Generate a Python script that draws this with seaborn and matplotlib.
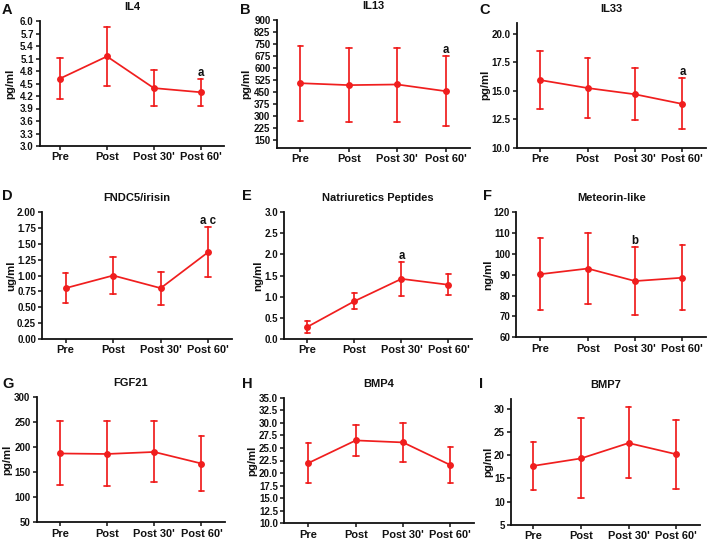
import numpy as np
import pandas as pd
import matplotlib
matplotlib.use("Agg")
import matplotlib.pyplot as plt
import seaborn as sns

sns.set_style("ticks")
plt.rcParams['font.family'] = ['Liberation Sans', 'DejaVu Sans']
plt.rcParams['font.weight'] = 'bold'

categories = ["Pre", "Post", "Post 30'", "Post 60'"]

# mean, lower bound, upper bound per panel
il4_mean = [4.62, 5.15, 4.39, 4.29]
il4_low = [4.12, 4.45, 3.96, 3.96]
il4_high = [5.12, 5.85, 4.83, 4.62]

il13_mean = [505, 493, 497, 455]
il13_low = [270, 262, 265, 237]
il13_high = [740, 725, 728, 672]

il33_mean = [15.95, 15.25, 14.7, 13.85]
il33_low = [13.4, 12.65, 12.4, 11.65]
il33_high = [18.55, 17.9, 17.0, 16.1]

fndc5_mean = [0.80, 1.00, 0.80, 1.37]
fndc5_low = [0.57, 0.71, 0.53, 0.98]
fndc5_high = [1.04, 1.29, 1.06, 1.77]

np_mean = [0.28, 0.89, 1.42, 1.28]
np_low = [0.13, 0.70, 1.02, 1.03]
np_high = [0.43, 1.09, 1.82, 1.53]

metrnl_mean = [90.3, 93.0, 87.0, 88.6]
metrnl_low = [73.0, 76.0, 70.5, 73.0]
metrnl_high = [107.5, 110.3, 103.3, 104.3]

fgf21_mean = [187, 186, 190, 167]
fgf21_low = [124, 122, 131, 113]
fgf21_high = [251, 251, 251, 222]

bmp4_mean = [22.0, 26.5, 26.1, 21.6]
bmp4_low = [18.0, 23.4, 22.3, 18.0]
bmp4_high = [26.0, 29.6, 29.9, 25.2]

bmp7_mean = [17.7, 19.3, 22.6, 20.2]
bmp7_low = [12.6, 10.7, 15.0, 12.8]
bmp7_high = [22.8, 27.9, 30.3, 27.5]

titles = ["IL4", "IL13", "IL33", "FNDC5/irisin", "Natriuretics Peptides",
          "Meteorin-like", "FGF21", "BMP4", "BMP7"]
letters = ["A", "B", "C", "D", "E", "F", "G", "H", "I"]
units = ["pg/ml", "pg/ml", "pg/ml", "ug/ml", "ng/ml", "ng/ml", "pg/ml", "pg/ml", "pg/ml"]
annotations = [{3: "a"}, {3: "a"}, {3: "a"}, {3: "a c"}, {2: "a"}, {2: "b"}, {}, {}, {}]

panels = [
    (il4_mean, il4_low, il4_high),
    (il13_mean, il13_low, il13_high),
    (il33_mean, il33_low, il33_high),
    (fndc5_mean, fndc5_low, fndc5_high),
    (np_mean, np_low, np_high),
    (metrnl_mean, metrnl_low, metrnl_high),
    (fgf21_mean, fgf21_low, fgf21_high),
    (bmp4_mean, bmp4_low, bmp4_high),
    (bmp7_mean, bmp7_low, bmp7_high),
]

ylims = [(3.0, 6.0), (100, 900), (10, 21), (0, 2.0), (0, 3.0), (60, 120),
         (50, 300), (10, 35), (5, 32)]
yticks = [np.arange(3.0, 6.01, 0.3), np.arange(150, 901, 75), np.arange(10, 20.1, 2.5),
          np.arange(0, 2.01, 0.25), np.arange(0, 3.01, 0.5), np.arange(60, 121, 10),
          np.arange(50, 301, 50), np.arange(10, 35.1, 2.5), np.arange(5, 30.1, 5)]
yfmt = ["{:.1f}", "{:.0f}", "{:.1f}", "{:.2f}", "{:.1f}", "{:.0f}", "{:.0f}", "{:.1f}", "{:.0f}"]

# axes boxes in pixels: left, right, top, bottom
W, H = 708, 541
boxes = [
    (40, 224, 21, 146), (276.7, 470, 20, 148), (517, 706, 22.7, 147.7),
    (42.3, 232, 212.3, 338.7), (284.3, 472, 212.3, 338.7), (516.3, 706, 212.3, 337.3),
    (36.7, 225, 396.7, 522.3), (284.3, 474, 397.7, 523.3), (511, 700, 399.3, 525),
]
xlefts = [-0.43, -0.49, -0.49, -0.49, -0.49, -0.51, -0.49, -0.51, -0.47]
ylabel_x = [10, 246, 485, 11, 258, 488, 7, 252, 488]
letter_pos = [(2, 10), (240, 10), (479, 10), (2, 196), (242, 196), (483, 196),
              (2, 384), (242, 384), (479, 384)]

red = '#f01e1e'
ink = '#111111'
fig = plt.figure(figsize=(W / 100, H / 100), dpi=100)

for i, (m, lo, hi) in enumerate(panels):
    l, r, t, b = boxes[i]
    ax = fig.add_axes([l / W, 1 - b / H, (r - l) / W, (b - t) / H])
    df = pd.DataFrame({
        "time": categories * 3,
        "value": list(lo) + list(m) + list(hi),
    })
    sns.pointplot(data=df, x="time", y="value", order=categories,
                  estimator="median", errorbar=("pi", 100), color=red,
                  capsize=0.12, markersize=4.0, linewidth=1.25,
                  err_kws={"linewidth": 1.25}, ax=ax)
    ax.set_xlim(xlefts[i], 3.5)
    ax.set_ylim(*ylims[i])
    ax.set_yticks(yticks[i])
    ax.set_yticklabels([yfmt[i].format(v) for v in yticks[i]], fontsize=7.0,
                       fontweight='bold', color=ink)
    ax.set_xticks(range(4))
    ax.set_xticklabels(categories, fontsize=7.9, fontweight='bold', color=ink)
    ax.set_xlabel("")
    ax.set_ylabel(units[i], fontsize=8.2, fontweight='bold', color=ink)
    ax.yaxis.label.set_va('center')
    ax.yaxis.set_label_coords((ylabel_x[i] - l) / (r - l), 0.5)
    ax.set_title(titles[i], fontsize=8, fontweight='bold', pad=8, color=ink)
    for s in ["top", "right"]:
        ax.spines[s].set_visible(False)
    for s in ["left", "bottom"]:
        ax.spines[s].set_linewidth(1.3)
        ax.spines[s].set_color(ink)
    ax.tick_params(axis='both', length=3, width=1.1, pad=1.5, colors=ink)
    for xi, txt in annotations[i].items():
        ax.text(xi, hi[xi], txt, ha='center', va='bottom', fontsize=8.3,
                fontweight='bold', color=ink)
    fig.text(letter_pos[i][0] / W, 1 - letter_pos[i][1] / H, letters[i],
             fontsize=10.5, fontweight='bold', ha='left', va='center', color=ink)

fig.savefig("out.png", dpi=100)
